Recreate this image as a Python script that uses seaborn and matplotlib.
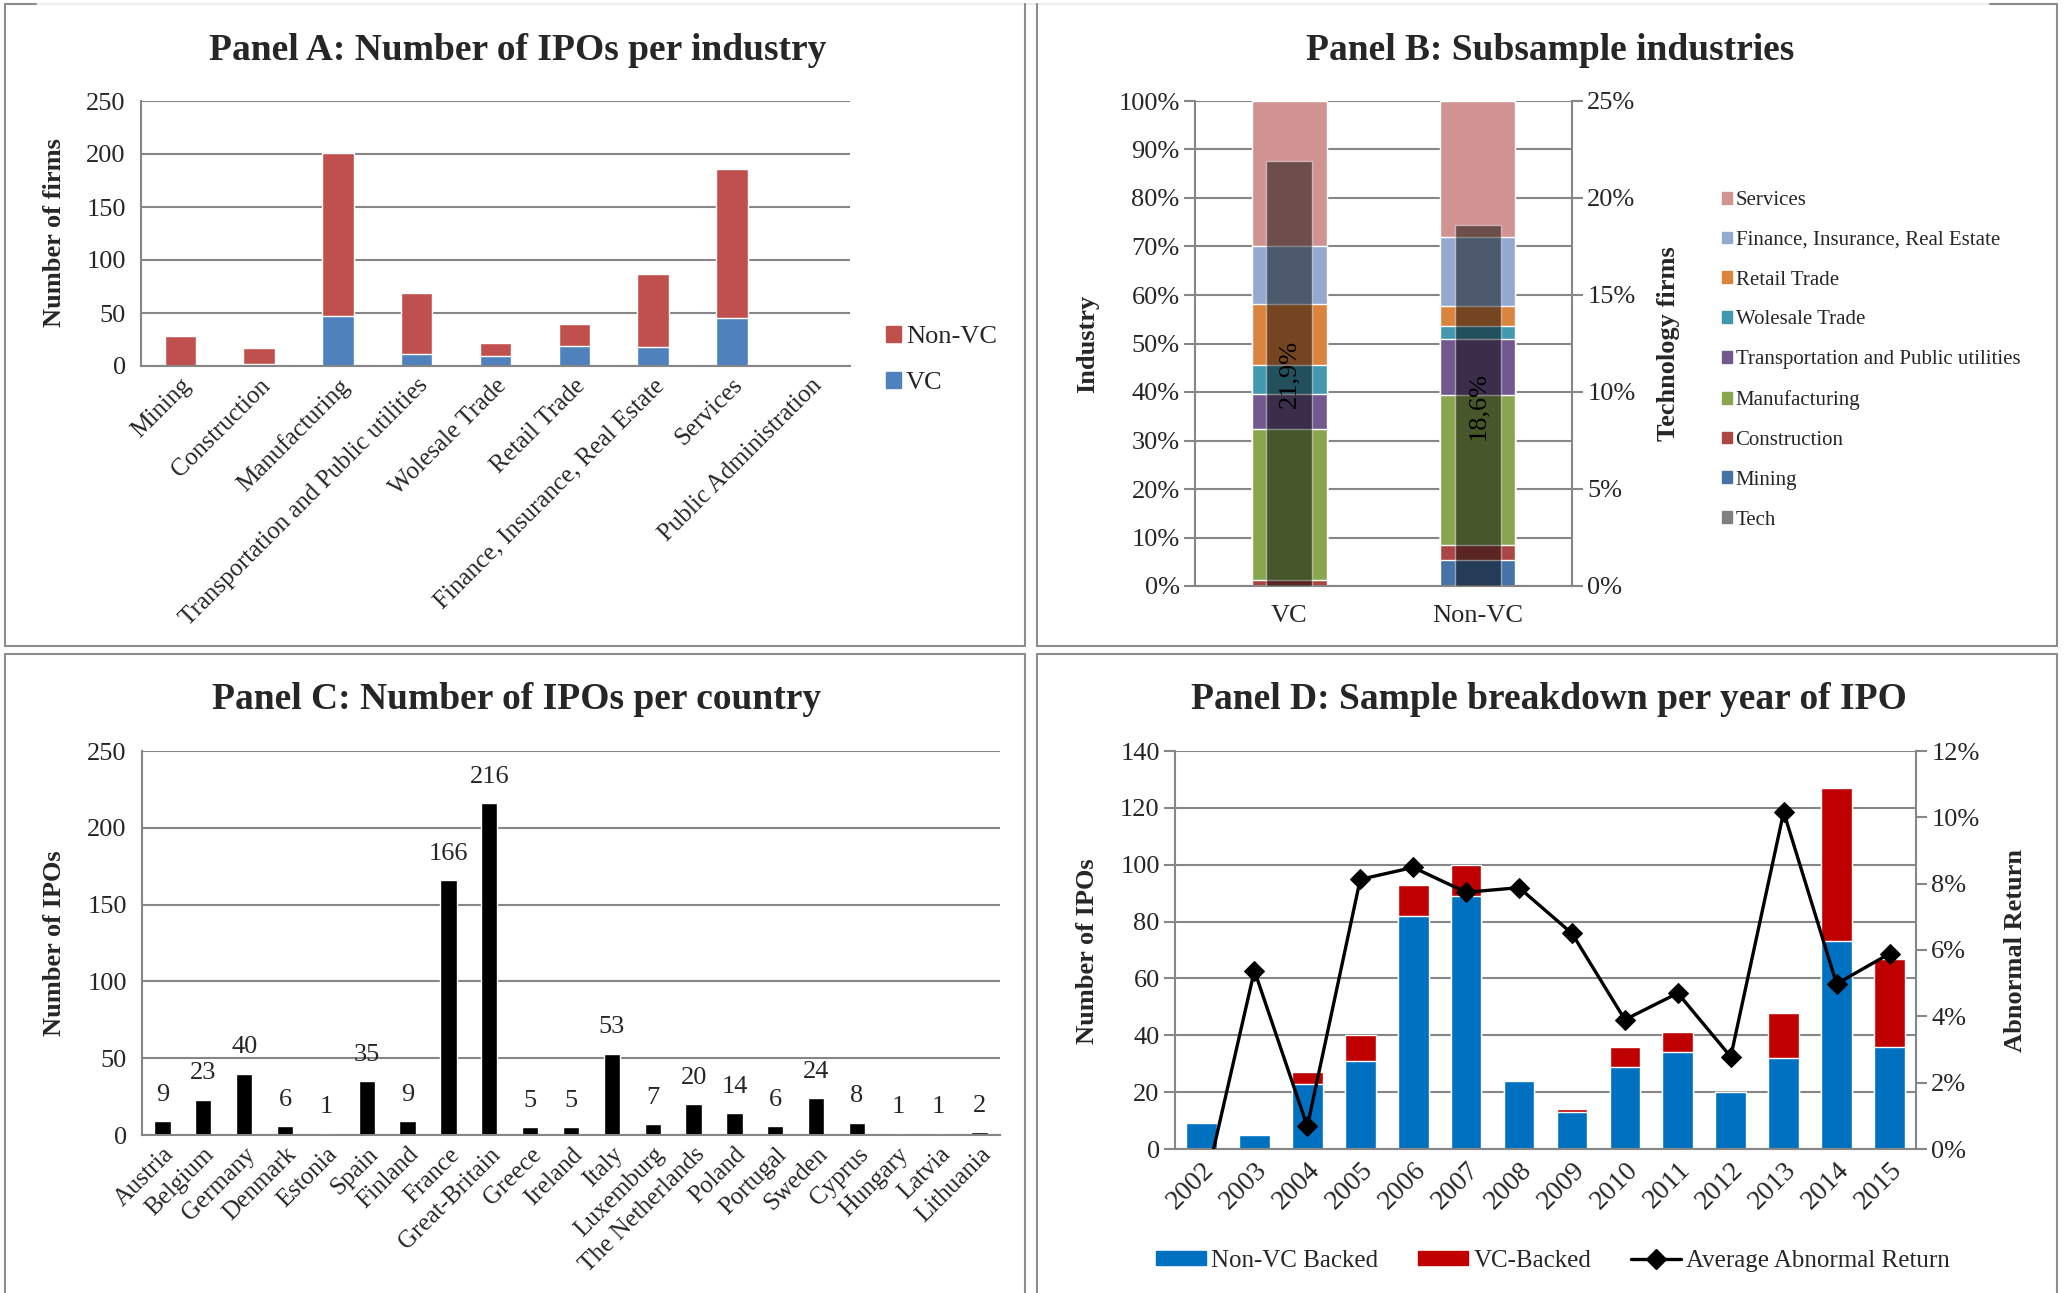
import numpy as np
import matplotlib
matplotlib.use('Agg')
import matplotlib.pyplot as plt
import seaborn as sns
from matplotlib.patches import Patch
from matplotlib.lines import Line2D
from matplotlib.ticker import MultipleLocator, FixedLocator, FuncFormatter

#Data--------------------------------------------------------------------------------------------------
industries = ['Mining', 'Construction', 'Manufacturing', 'Transportation and Public utilities',
              'Wolesale Trade', 'Retail Trade', 'Finance, Insurance, Real Estate', 'Services',
              'Public Administration']
ind_vc = [0, 2, 47, 11, 9, 19, 18, 45, 0]
ind_nonvc = [28, 15, 154, 58, 13, 21, 69, 141, 1]

groups_b = ['VC', 'Non-VC']
b_industries = ['Mining', 'Construction', 'Manufacturing', 'Transportation and Public utilities',
                'Wolesale Trade', 'Retail Trade', 'Finance, Insurance, Real Estate', 'Services']
b_share_vc = [0.0, 1.2, 31.1, 7.3, 5.9, 12.6, 12.1, 29.8]      # % of VC firms
b_share_nonvc = [5.4, 3.0, 31.0, 11.6, 2.6, 4.2, 14.1, 28.1]   # % of non-VC firms
b_tech = [21.9, 18.6]                                            # % technology firms

countries = ['Austria', 'Belgium', 'Germany', 'Denmark', 'Estonia', 'Spain', 'Finland', 'France',
             'Great-Britain', 'Greece', 'Ireland', 'Italy', 'Luxemburg', 'The Netherlands', 'Poland',
             'Portugal', 'Sweden', 'Cyprus', 'Hungary', 'Latvia', 'Lithuania']
country_ipos = [9, 23, 40, 6, 1, 35, 9, 166, 216, 5, 5, 53, 7, 20, 14, 6, 24, 8, 1, 1, 2]

years = ['2002', '2003', '2004', '2005', '2006', '2007', '2008', '2009', '2010', '2011', '2012',
         '2013', '2014', '2015']
year_nonvc = [9, 5, 23, 31, 82, 89, 24, 13, 29, 34, 20, 32, 73, 36]
year_vc = [0, 0, 4, 9, 11, 11, 0, 1, 7, 7, 0, 16, 54, 31]
year_abn_ret = [-0.016, 0.0538, 0.0068, 0.0813, 0.0849, 0.0774, 0.0788, 0.065, 0.039, 0.047,
                0.0278, 0.1016, 0.0498, 0.0589]

#Style-------------------------------------------------------------------------------------------------
sns.set_style('white')
plt.rcParams['font.family'] = ['Liberation Serif', 'DejaVu Serif']

W, H = 2065, 1293
fig = plt.figure(figsize=(W / 100, H / 100), dpi=100)
GRID = '#868686'
BOX = '#8c8c8c'
RED_A, BLUE_A = '#C0504D', '#4F81BD'
b_colors = ['#4572A7', '#AA4643', '#89A54E', '#71588F', '#4198AF', '#DB843D', '#93A9CF', '#D19392']


def rect(l, t, r, b):
    return [l / W, 1 - b / H, (r - l) / W, (b - t) / H]


def ftext(x, y, s, **kw):
    fig.text(x / W, 1 - y / H, s, ha='center', va='center', **kw)


def style_axis(ax, n, ymax, step):
    ax.set_xlim(-0.5, n - 0.5)
    ax.set_ylim(0, ymax)
    ax.yaxis.set_major_locator(MultipleLocator(step))
    ax.grid(axis='y', color=GRID, lw=1.5)
    ax.set_axisbelow(True)
    for s in ['top', 'right']:
        ax.spines[s].set_visible(False)
    for s in ['left', 'bottom']:
        ax.spines[s].set_color(GRID)
        ax.spines[s].set_linewidth(1.5)
    ax.xaxis.set_minor_locator(FixedLocator(np.arange(-0.5, n, 1)))
    ax.tick_params(axis='x', which='major', length=0, pad=6)
    ax.tick_params(axis='x', which='minor', length=8, width=1.5, color=GRID, direction='out')
    ax.tick_params(axis='y', length=8, width=1.5, color=GRID, labelsize=19, pad=3)
    ax.set_xlabel('')
    ax.set_ylabel('')


#Panel borders------------------------------------------------------------------------------------------
def seg(x0, y0, x1, y1, c=BOX):
    fig.add_artist(Line2D([x0 / W, x1 / W], [1 - y0 / H, 1 - y1 / H], color=c, lw=1.5))

seg(5, 4, 2057, 4, '#eeeeee')
seg(5, 4, 36, 4); seg(1990, 4, 2057, 4)
for x0, x1 in [(5, 1025), (1037, 2057)]:
    seg(x0, 4, x0, 646); seg(x1, 4, x1, 646); seg(x0, 646, x1, 646)
    seg(x0, 654, x0, 1293); seg(x1, 654, x1, 1293); seg(x0, 654, x1, 654)

#Panel A-----------------------------------------------------------------------------------------------
axA = fig.add_axes(rect(141, 101, 850, 366))
ind_total = [a + b for a, b in zip(ind_vc, ind_nonvc)]
sns.barplot(x=industries, y=ind_total, color=RED_A, saturation=1, width=0.4, ax=axA)
sns.barplot(x=industries, y=ind_vc, color=BLUE_A, saturation=1, width=0.4, ax=axA)
style_axis(axA, len(industries), 250, 50)
axA.set_xticks(range(len(industries)))
axA.set_xticklabels(industries, rotation=45, ha='right', rotation_mode='anchor', fontsize=18)
ftext(518, 51, 'Panel A: Number of IPOs per industry', fontsize=27, fontweight='bold')
ftext(55, 233, 'Number of firms', fontsize=19, fontweight='bold', rotation=90)
fig.legend(handles=[Patch(color=RED_A, label='Non-VC'), Patch(color=BLUE_A, label='VC')],
           loc='upper left', bbox_to_anchor=(886 / W, 1 - 326 / H), frameon=False, fontsize=19,
           handlelength=0.55, handleheight=0.55, handletextpad=0.2, labelspacing=0.9,
           borderpad=0, borderaxespad=0)

#Panel B-----------------------------------------------------------------------------------------------
axB = fig.add_axes(rect(1195, 101, 1572, 586))
cum_vc = np.cumsum(b_share_vc)
cum_nonvc = np.cumsum(b_share_nonvc)
for i in range(len(b_industries) - 1, -1, -1):
    sns.barplot(x=groups_b, y=[cum_vc[i], cum_nonvc[i]], color=b_colors[i], saturation=1,
                width=0.4, ax=axB)
style_axis(axB, 2, 100, 10)
axB.yaxis.set_major_formatter(FuncFormatter(lambda v, p: f'{v:.0f}%'))
axB.spines['right'].set_visible(True)
axB.spines['right'].set_color(GRID)
axB.spines['right'].set_linewidth(1.5)
axB.tick_params(axis='x', labelsize=19, pad=14)
axB2 = axB.twinx()
sns.barplot(x=groups_b, y=b_tech, color='black', alpha=0.47, saturation=1, width=0.245, ax=axB2)
axB2.set_xlim(-0.5, 1.5)
axB2.set_ylim(0, 25)
axB2.yaxis.set_major_locator(MultipleLocator(5))
axB2.yaxis.set_major_formatter(FuncFormatter(lambda v, p: f'{v:.0f}%'))
axB2.tick_params(axis='y', length=8, width=1.5, color=GRID, labelsize=19, pad=3)
axB2.set_ylabel('')
for s in ['top', 'left', 'bottom', 'right']:
    axB2.spines[s].set_visible(False)
axB2.bar_label(axB2.containers[0], labels=[f'{v:.1f}%'.replace('.', ',') for v in b_tech],
               label_type='center', rotation=90, fontsize=19, color='black')
ftext(1550, 51, 'Panel B: Subsample industries', fontsize=27, fontweight='bold')
ftext(1088, 344, 'Industry', fontsize=19, fontweight='bold', rotation=90)
ftext(1669, 344, 'Technology firms', fontsize=19, fontweight='bold', rotation=90)
b_handles = [Patch(color=b_colors[i], label=b_industries[i]) for i in range(len(b_industries) - 1, -1, -1)]
b_handles.append(Patch(color='#808080', label='Tech'))
fig.legend(handles=b_handles, loc='upper left', bbox_to_anchor=(1722 / W, 1 - 191 / H),
           frameon=False, fontsize=15, handlelength=0.5, handleheight=0.5, handletextpad=0.15,
           labelspacing=1.0, borderpad=0, borderaxespad=0)

#Panel C-----------------------------------------------------------------------------------------------
axC = fig.add_axes(rect(142, 751, 1000, 1135))
sns.barplot(x=countries, y=country_ipos, color='black', saturation=1, width=0.4, ax=axC)
style_axis(axC, len(countries), 250, 50)
axC.bar_label(axC.containers[0], fontsize=19, padding=11)
axC.set_xticks(range(len(countries)))
axC.set_xticklabels(countries, rotation=45, ha='right', rotation_mode='anchor', fontsize=18)
ftext(517, 699, 'Panel C: Number of IPOs per country', fontsize=27, fontweight='bold')
ftext(55, 943, 'Number of IPOs', fontsize=19, fontweight='bold', rotation=90)

#Panel D-----------------------------------------------------------------------------------------------
BLUE_D, RED_D = '#0070C0', '#C00000'
axD = fig.add_axes(rect(1175, 751, 1916, 1149))
year_total = [a + b for a, b in zip(year_nonvc, year_vc)]
sns.barplot(x=years, y=year_total, color=RED_D, saturation=1, width=0.58, ax=axD)
sns.barplot(x=years, y=year_nonvc, color=BLUE_D, saturation=1, width=0.58, ax=axD)
style_axis(axD, len(years), 140, 20)
axD.set_xticks(range(len(years)))
axD.set_xticklabels(years, rotation=45, ha='right', rotation_mode='anchor', fontsize=20)
axD.spines['right'].set_visible(True)
axD.spines['right'].set_color(GRID)
axD.spines['right'].set_linewidth(1.5)
axD2 = axD.twinx()
sns.lineplot(x=np.arange(len(years)), y=year_abn_ret, color='black', lw=2.4, marker='D',
             markersize=10, markeredgecolor='black', ax=axD2)
axD2.set_xlim(-0.5, len(years) - 0.5)
axD2.set_ylim(0, 0.12)
axD2.yaxis.set_major_locator(MultipleLocator(0.02))
axD2.yaxis.set_major_formatter(FuncFormatter(lambda v, p: f'{v * 100:.0f}%'))
axD2.tick_params(axis='y', length=8, width=1.5, color=GRID, labelsize=19, pad=3)
axD2.set_ylabel('')
for s in ['top', 'left', 'bottom', 'right']:
    axD2.spines[s].set_visible(False)
ftext(1549, 699, 'Panel D: Sample breakdown per year of IPO', fontsize=27, fontweight='bold')
ftext(1088, 951, 'Number of IPOs', fontsize=19, fontweight='bold', rotation=90)
ftext(2015, 950, 'Abnormal Return', fontsize=19, fontweight='bold', rotation=90)
d_handles = [Patch(color=BLUE_D, label='Non-VC Backed'), Patch(color=RED_D, label='VC-Backed'),
             Line2D([], [], color='black', lw=2.4, marker='D', markersize=10,
                    label='Average Abnormal Return')]
fig.legend(handles=d_handles, loc='center', bbox_to_anchor=(1553 / W, 1 - 1261 / H), ncol=3,
           frameon=False, fontsize=18, handlelength=2.0, handleheight=0.5, handletextpad=0.2,
           columnspacing=1.6, borderpad=0, borderaxespad=0)

fig.savefig('out.png', dpi=100)
